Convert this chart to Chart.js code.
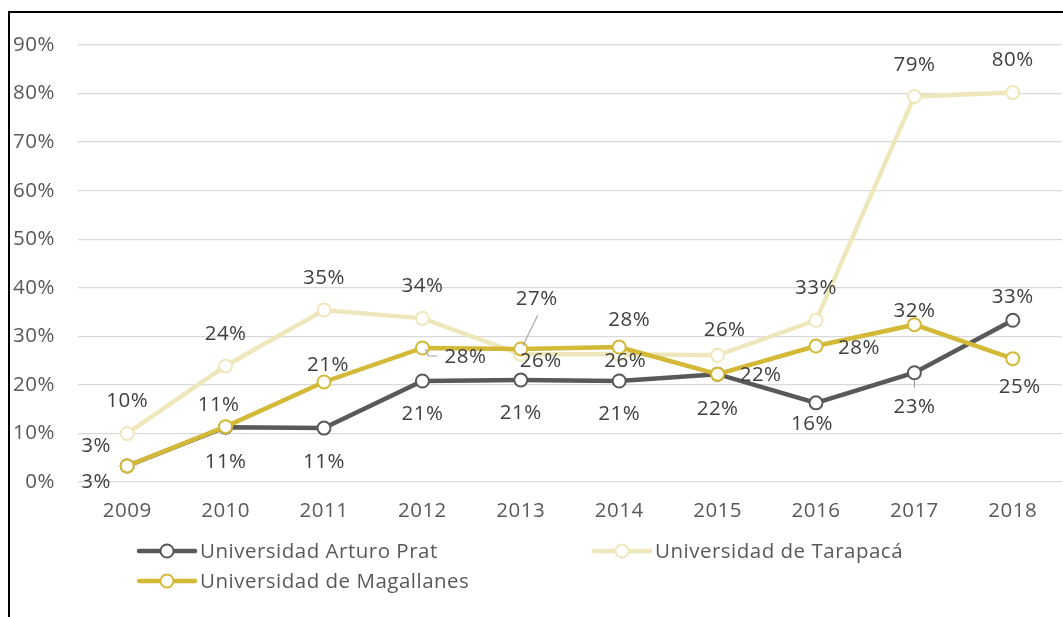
<!DOCTYPE html>
<html>
<head>
<meta charset="utf-8">
<script src="https://cdn.jsdelivr.net/npm/chart.js@4/dist/chart.umd.min.js"></script>
<style>
  html, body { margin: 0; padding: 0; background: #fff; }
  #wrap { width: 1063px; height: 617px; position: relative; }
</style>
</head>
<body>
<div id="wrap"><canvas id="myChart" width="1063" height="617"></canvas></div>
<script>
'use strict';
// data (fractions, axis shown in %)
let years = ['2009', '2010', '2011', '2012', '2013', '2014', '2015', '2016', '2017', '2018'];
let seriesNames = ['Universidad Arturo Prat', 'Universidad de Tarapacá', 'Universidad de Magallanes'];
let arturoPrat = [0.033, 0.113, 0.111, 0.208, 0.210, 0.208, 0.222, 0.163, 0.225, 0.333];
let tarapaca = [0.100, 0.239, 0.354, 0.337, 0.263, 0.263, 0.261, 0.333, 0.794, 0.802];
let magallanes = [0.033, 0.114, 0.206, 0.276, 0.274, 0.278, 0.222, 0.280, 0.324, 0.254];
let yMax = 0.9;
let yStep = 0.1;

let fontFamily = '"Open Sans", "Noto Sans", sans-serif';
let fontSize = 20.5;
let textColor = '#595959';
let labelColor = '#404040';

// label offsets (dx, dy) relative to each point, plus optional leader lines
let arturoLabelPos = [[-31, 16], [0, 35], [0, 34], [0, 33], [0, 33], [0, 33], [0, 35], [-4, 21], [0, 34], [0, -23]];
let tarapacaLabelPos = [[0, -32], [0, -32], [0, -32], [0, -32], [20, 7], [6, 7], [7, -25], [0, -32], [0, -31], [0, -32]];
let magallanesLabelPos = [[-31, -20], [-7, -21], [4, -17], [43, 9], [16, -50], [10, -27], [43, 1], [43, 2], [0, -14], [7, 28]];
let arturoLeaders = { 8: [[0, 7], [0, 15]] };
let magallanesLeaders = { 3: [[3, 1], [6, 8], [15, 8]], 4: [[2, -3], [17, -34]] };

function makeDataset(name, values, color, order, labelPos, leaders) {
  return {
    label: name,
    data: values,
    borderColor: color,
    backgroundColor: '#ffffff',
    borderWidth: 4.5,
    pointRadius: 6.5,
    pointHoverRadius: 6.5,
    pointBorderWidth: 2,
    pointBackgroundColor: '#ffffff',
    pointBorderColor: color,
    tension: 0,
    order: order,
    labelPos: labelPos,
    leaders: leaders
  };
}

let datasets = [
  makeDataset(seriesNames[0], arturoPrat, '#595959', 3, arturoLabelPos, arturoLeaders),
  makeDataset(seriesNames[1], tarapaca, '#EEE7BC', 2, tarapacaLabelPos, {}),
  makeDataset(seriesNames[2], magallanes, '#D3B937', 1, magallanesLabelPos, magallanesLeaders)
];

// frame lines, data labels and the Excel style legend
let excelBits = {
  id: 'excelBits',
  beforeDraw(chart) {
    let ctx = chart.ctx;
    ctx.letterSpacing = '0.5px';
    ctx.save();
    ctx.fillStyle = '#ffffff';
    ctx.fillRect(0, 0, chart.width, chart.height);
    ctx.strokeStyle = '#000000';
    ctx.lineWidth = 2;
    ctx.beginPath();
    ctx.moveTo(9, chart.height);
    ctx.lineTo(9, 12);
    ctx.lineTo(chart.width, 12);
    ctx.stroke();
    ctx.restore();
  },
  afterDatasetsDraw(chart) {
    let ctx = chart.ctx;
    ctx.save();
    ctx.font = fontSize + 'px ' + fontFamily;
    ctx.textAlign = 'center';
    ctx.textBaseline = 'middle';
    chart.data.datasets.forEach((ds, i) => {
      let meta = chart.getDatasetMeta(i);
      meta.data.forEach((pt, j) => {
        let off = ds.labelPos[j];
        let lead = ds.leaders[j];
        if (lead) {
          ctx.strokeStyle = '#A6A6A6';
          ctx.lineWidth = 1.2;
          ctx.beginPath();
          lead.forEach((p, k) => {
            if (k === 0) ctx.moveTo(pt.x + p[0], pt.y + p[1]);
            else ctx.lineTo(pt.x + p[0], pt.y + p[1]);
          });
          ctx.stroke();
        }
        ctx.fillStyle = labelColor;
        ctx.fillText(Math.round(ds.data[j] * 100) + '%', pt.x + off[0], pt.y + off[1]);
      });
    });
    ctx.restore();
  },
  afterDraw(chart) {
    let ctx = chart.ctx;
    let spots = [[137, 551], [592, 551], [137, 581]];
    ctx.save();
    ctx.font = fontSize + 'px ' + fontFamily;
    ctx.textAlign = 'left';
    ctx.textBaseline = 'middle';
    chart.data.datasets.forEach((ds, i) => {
      let x = spots[i][0];
      let y = spots[i][1];
      ctx.strokeStyle = ds.borderColor;
      ctx.lineWidth = 4.5;
      ctx.lineCap = 'round';
      ctx.beginPath();
      ctx.moveTo(x + 2, y);
      ctx.lineTo(x + 58, y);
      ctx.stroke();
      ctx.beginPath();
      ctx.arc(x + 30, y, 6.5, 0, Math.PI * 2);
      ctx.fillStyle = '#ffffff';
      ctx.fill();
      ctx.lineWidth = 2;
      ctx.stroke();
      ctx.fillStyle = textColor;
      ctx.fillText(ds.label, x + 63, y + 1);
    });
    ctx.restore();
  }
};

let ctx = document.getElementById('myChart').getContext('2d');
let myChart = new Chart(ctx, {
  type: 'line',
  data: {
    labels: years,
    datasets: datasets
  },
  options: {
    responsive: false,
    animation: false,
    layout: {
      autoPadding: false,
      padding: { top: 45, right: 1, bottom: 85, left: 0 }
    },
    plugins: {
      legend: { display: false },
      tooltip: { enabled: false }
    },
    scales: {
      x: {
        offset: true,
        grid: { display: false, drawTicks: false },
        border: { display: false },
        ticks: {
          color: textColor,
          font: { family: fontFamily, size: fontSize },
          padding: 17,
          maxRotation: 0
        },
        afterFit(scale) {
          scale.height = 50;
          scale.paddingLeft = 0;
          scale.paddingRight = 0;
        }
      },
      y: {
        min: 0,
        max: yMax,
        grid: { color: '#D9D9D9', lineWidth: 1.3, drawTicks: false },
        border: { display: false },
        ticks: {
          stepSize: yStep,
          color: textColor,
          font: { family: fontFamily, size: fontSize },
          padding: 23,
          callback: v => Math.round(v * 100) + '%'
        },
        afterFit(scale) { scale.width = 78; }
      }
    }
  },
  plugins: [excelBits]
});
</script>
</body>
</html>
